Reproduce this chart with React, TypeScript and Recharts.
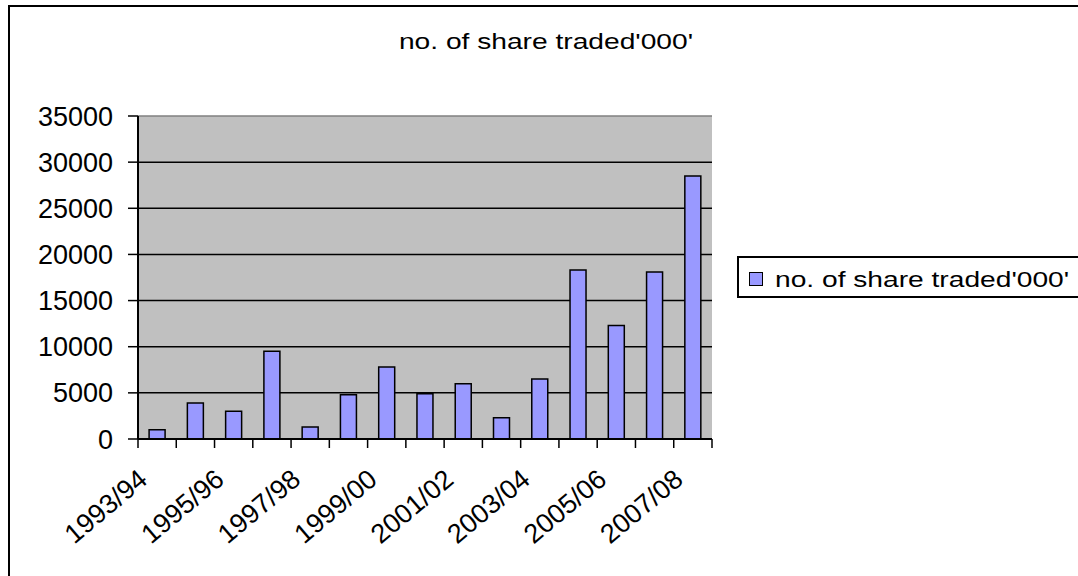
import { Bar, BarChart, CartesianGrid, ReferenceLine, XAxis, YAxis } from "recharts";

// values (thousands of shares)
const YEARS = [
  "1993/94", "1994/95", "1995/96", "1996/97", "1997/98",
  "1998/99", "1999/00", "2000/01", "2001/02", "2002/03",
  "2003/04", "2004/05", "2005/06", "2006/07", "2007/08",
];
const SHARES_TRADED = [
  1000, 3900, 3000, 9500, 1300,
  4800, 7800, 4900, 6000, 2300,
  6500, 18300, 12300, 18100, 28500,
];
const Y_TICKS = [0, 5000, 10000, 15000, 20000, 25000, 30000, 35000];
const GRID_VALUES = [5000, 10000, 15000, 20000, 25000, 30000];
const SERIES_NAME = "no. of share traded'000'";

const FONT = "'Liberation Sans', Arial, sans-serif";
const BAR_FILL = "#9999ff";
const PLOT_FILL = "#c0c0c0";
const PLOT_W = 574;
const BAND = PLOT_W / YEARS.length;

const data = YEARS.map((year, i) => ({ year, shares: SHARES_TRADED[i] }));

// Excel-style: tick marks sit between categories, every other label shown, slanted
function XTick(props: any) {
  const { x, y, payload, index } = props;
  const i = index ?? payload?.index ?? 0;
  const left = x - BAND / 2;
  const lx = x - 8;
  const ly = y + 43;
  return (
    <g>
      <line x1={left} x2={left} y1={y} y2={y + 9} stroke="#000" strokeWidth={1.5} />
      {i === YEARS.length - 1 && (
        <line x1={x + BAND / 2} x2={x + BAND / 2} y1={y} y2={y + 9} stroke="#000" strokeWidth={1.5} />
      )}
      {i % 2 === 0 && (
        <text
          x={lx}
          y={ly}
          textAnchor="end"
          transform={`rotate(-40, ${lx}, ${ly})`}
          fontFamily={FONT}
          fontSize={27}
          fill="#000"
        >
          {payload.value}
        </text>
      )}
    </g>
  );
}

export default function App() {
  return (
    <div
      style={{
        position: "fixed",
        left: 0,
        top: 0,
        width: 1078,
        height: 576,
        overflow: "hidden",
        background: "#fff",
        fontFamily: FONT,
      }}
    >
      {/* chart frame, runs off the right and bottom of the picture */}
      <div
        style={{
          position: "absolute",
          left: 8,
          top: 5,
          width: 1200,
          height: 700,
          borderLeft: "2px solid #000",
          borderTop: "2px solid #000",
        }}
      />

      <div
        style={{
          position: "absolute",
          left: 546,
          top: 31,
          fontSize: 22,
          lineHeight: 1,
          whiteSpace: "nowrap",
          transform: "translateX(-50%) scaleX(1.28)",
          color: "#000",
        }}
      >
        {SERIES_NAME}
      </div>

      <div style={{ position: "absolute", left: 0, top: 0 }}>
        <BarChart
          width={1078}
          height={576}
          data={data}
          margin={{ top: 116, right: 366, bottom: 0, left: 38 }}
          barCategoryGap="29%"
        >
          <CartesianGrid
            vertical={false}
            horizontalValues={GRID_VALUES}
            stroke="#000"
            strokeWidth={1.5}
            fill={PLOT_FILL}
            fillOpacity={1}
          />
          <XAxis
            dataKey="year"
            interval={0}
            height={137}
            tickLine={false}
            tickSize={0}
            tickMargin={0}
            axisLine={{ stroke: "#000", strokeWidth: 2 }}
            tick={<XTick />}
          />
          <XAxis xAxisId="edge" type="number" domain={[0, 15]} allowDataOverflow hide />
          <YAxis
            width={100}
            domain={[0, 35000]}
            ticks={Y_TICKS}
            interval={0}
            tickSize={10}
            tickMargin={15}
            axisLine={{ stroke: "#000", strokeWidth: 2 }}
            tickLine={{ stroke: "#000", strokeWidth: 1.5 }}
            tick={{ fill: "#000", fontSize: 27, fontFamily: FONT }}
          />
          <ReferenceLine y={35000} stroke="#808080" strokeWidth={1.5} />
          <ReferenceLine xAxisId="edge" x={15} stroke="#808080" strokeWidth={1.5} />
          <Bar
            dataKey="shares"
            name={SERIES_NAME}
            fill={BAR_FILL}
            stroke="#000"
            strokeWidth={1.5}
            isAnimationActive={false}
          />
        </BarChart>
      </div>

      {/* legend box */}
      <div
        style={{
          position: "absolute",
          left: 737,
          top: 256,
          width: 345,
          height: 38,
          border: "2px solid #000",
          background: "#fff",
        }}
      >
        <span
          style={{
            position: "absolute",
            left: 10,
            top: 14,
            width: 12,
            height: 12,
            background: BAR_FILL,
            border: "1.5px solid #000",
          }}
        />
        <span
          style={{
            position: "absolute",
            left: 36,
            top: 11,
            fontSize: 22,
            lineHeight: 1,
            whiteSpace: "nowrap",
            transform: "scaleX(1.28)",
            transformOrigin: "left center",
            color: "#000",
          }}
        >
          {SERIES_NAME}
        </span>
      </div>
    </div>
  );
}
